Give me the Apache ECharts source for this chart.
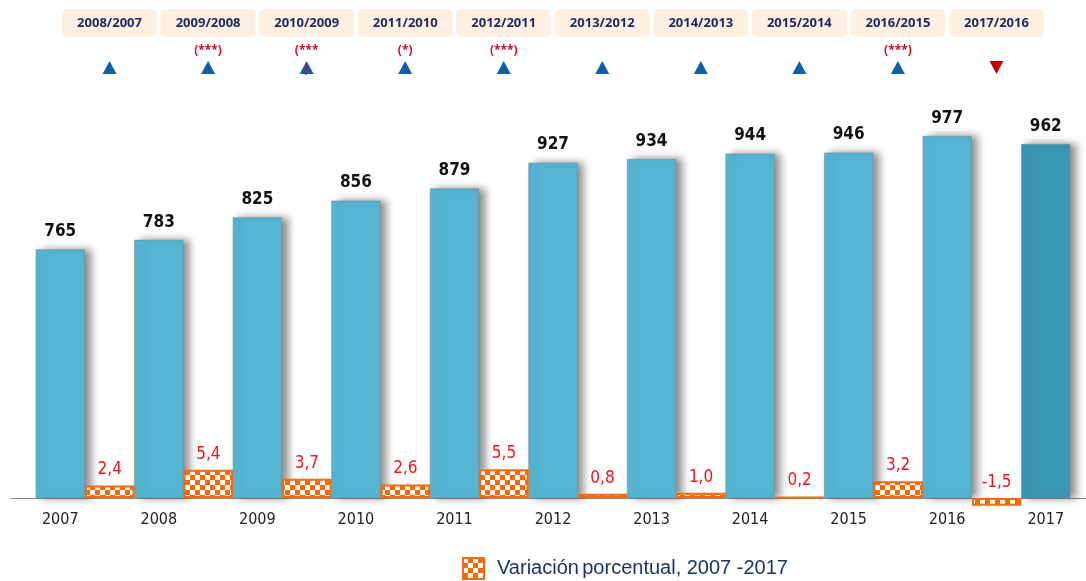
<!DOCTYPE html>
<html>
<head>
<meta charset="utf-8">
<script src="https://cdn.jsdelivr.net/npm/echarts@6/dist/echarts.min.js"></script>
<style>
    html, body { margin: 0; padding: 0; background: #fff; }
    #main { width: 1086px; height: 581px; }
</style>
</head>
<body>
<div id="main"></div>
<script>
    // años y totales
    const years = ['2007', '2008', '2009', '2010', '2011', '2012', '2013', '2014', '2015', '2016', '2017'];
    const totals = [765, 783, 825, 856, 879, 927, 934, 944, 946, 977, 962];
    // variación porcentual, colocada entre un año y el siguiente
    const variation = [2.4, 5.4, 3.7, 2.6, 5.5, 0.8, 1.0, 0.2, 3.2, -1.5, null];
    // cabeceras de comparación
    const periods = ['2008/2007', '2009/2008', '2010/2009', '2011/2010', '2012/2011',
        '2013/2012', '2014/2013', '2015/2014', '2016/2015', '2017/2016'];
    const significance = ['', '(***)', '(***\n)', '(*)', '(***)', '', '', '', '(***)', ''];
    const trend = ['up', 'up', 'up', 'up', 'up', 'up', 'up', 'up', 'up', 'down'];

    const legendName = 'Variación porcentual, 2007 -2017';
    const narrow = '"DejaVu Sans Condensed", "Liberation Sans", sans-serif';
    const plain = '"Liberation Sans", Arial, sans-serif';

    // patrón de cuadros naranja/blanco
    function checker() {
        const c = document.createElement('canvas');
        c.width = 10;
        c.height = 10;
        const ctx = c.getContext('2d');
        ctx.fillStyle = '#f36a0d';
        ctx.fillRect(0, 0, 10, 10);
        ctx.fillStyle = '#fffaf4';
        ctx.fillRect(0, 0, 5, 5);
        ctx.fillRect(5, 5, 5, 5);
        return c;
    }
    const pattern = { image: checker(), repeat: 'repeat' };

    let myChart = echarts.init(document.getElementById('main'), null, { renderer: 'canvas' });

    myChart.setOption({
        animation: false,
        backgroundColor: '#fff',
        grid: {
            left: 11,
            width: 1084,
            top: 70,
            bottom: 83,
            outerBoundsMode: 'none',
            containLabel: false
        },
        legend: {
            data: [legendName],
            left: 462,
            top: 557,
            padding: 0,
            icon: 'rect',
            itemWidth: 21,
            itemHeight: 21,
            itemGap: 0,
            formatter: function () {
                return '{a|Variación} {a|porcentual, 2007 -2017}';
            },
            textStyle: {
                padding: [0, 0, 0, 8],
                rich: {
                    a: {
                        fontFamily: plain,
                        fontSize: 20,
                        color: '#1a3368'
                    }
                }
            }
        },
        xAxis: {
            type: 'category',
            data: years,
            axisLine: {
                onZero: false,
                lineStyle: { color: '#8c8c8c', width: 1 }
            },
            axisTick: {
                length: 5,
                lineStyle: { color: '#8c8c8c' }
            },
            axisLabel: {
                interval: 0,
                margin: 14,
                fontFamily: narrow,
                fontSize: 16,
                color: '#222'
            }
        },
        yAxis: [
            { type: 'value', min: 300, max: 1100, show: false, splitLine: { show: false } },
            { type: 'value', min: 0, max: 82, show: false, splitLine: { show: false } }
        ],
        series: [
            // hueco vacío para desplazar las barras
            {
                name: 'hueco',
                type: 'bar',
                barWidth: 49.5,
                barGap: '0%',
                data: years.map(() => '-')
            },
            {
                name: 'total',
                type: 'bar',
                barWidth: 49.5,
                barGap: '0%',
                data: totals.map((v, i) => i === totals.length - 1
                    ? { value: v, itemStyle: { color: '#3b98b3' } }
                    : v),
                itemStyle: {
                    color: '#55b6d3',
                    borderColor: 'rgba(110,140,150,0.55)',
                    borderWidth: 1,
                    shadowColor: 'rgba(0,0,0,0.45)',
                    shadowBlur: 8,
                    shadowOffsetX: 6
                },
                label: {
                    show: true,
                    position: 'top',
                    distance: 9,
                    fontFamily: narrow,
                    fontSize: 17,
                    fontWeight: 'bold',
                    color: '#111'
                }
            },
            {
                name: legendName,
                type: 'bar',
                yAxisIndex: 1,
                barWidth: 49.5,
                barGap: '0%',
                clip: false,
                data: variation.map(v => v === null ? '-' : v),
                itemStyle: {
                    color: pattern,
                    borderColor: '#f36a0d',
                    borderWidth: 2
                },
                label: {
                    show: true,
                    position: 'top',
                    distance: 7,
                    fontFamily: narrow,
                    fontSize: 17,
                    color: '#f0141e',
                    formatter: p => p.value.toFixed(1).replace('.', ',')
                }
            },
            // cabeceras, asteriscos y flechas
            {
                name: 'cabeceras',
                type: 'custom',
                clip: false,
                silent: true,
                data: periods.map((p, i) => [i, 300]),
                renderItem: function (params, api) {
                    const i = params.dataIndex;
                    const x = api.coord([i, 300])[0] + api.size([1, 0])[0] / 2;
                    const up = trend[i] === 'up';
                    return {
                        type: 'group',
                        children: [
                            {
                                type: 'rect',
                                shape: { x: x - 47.5, y: 9, width: 95, height: 28, r: 5 },
                                style: { fill: '#fdefe2' }
                            },
                            {
                                type: 'text',
                                style: {
                                    text: periods[i],
                                    x: x,
                                    y: 23,
                                    align: 'center',
                                    verticalAlign: 'middle',
                                    font: 'bold 13px "Noto Sans", sans-serif',
                                    fill: '#1b2a5c'
                                }
                            },
                            {
                                type: 'text',
                                style: {
                                    text: significance[i],
                                    x: x,
                                    y: 41,
                                    align: 'center',
                                    verticalAlign: 'top',
                                    lineHeight: 19,
                                    font: 'bold 12px "Noto Sans", sans-serif',
                                    fill: '#c8102e'
                                },
                                z2: 10
                            },
                            {
                                type: 'polygon',
                                shape: {
                                    points: up
                                        ? [[x - 7, 74], [x + 7, 74], [x, 61]]
                                        : [[x - 7, 61], [x + 7, 61], [x, 74]]
                                },
                                style: { fill: up ? '#0f5fa8' : '#c00000' }
                            }
                        ]
                    };
                }
            }
        ]
    });
</script>
</body>
</html>
